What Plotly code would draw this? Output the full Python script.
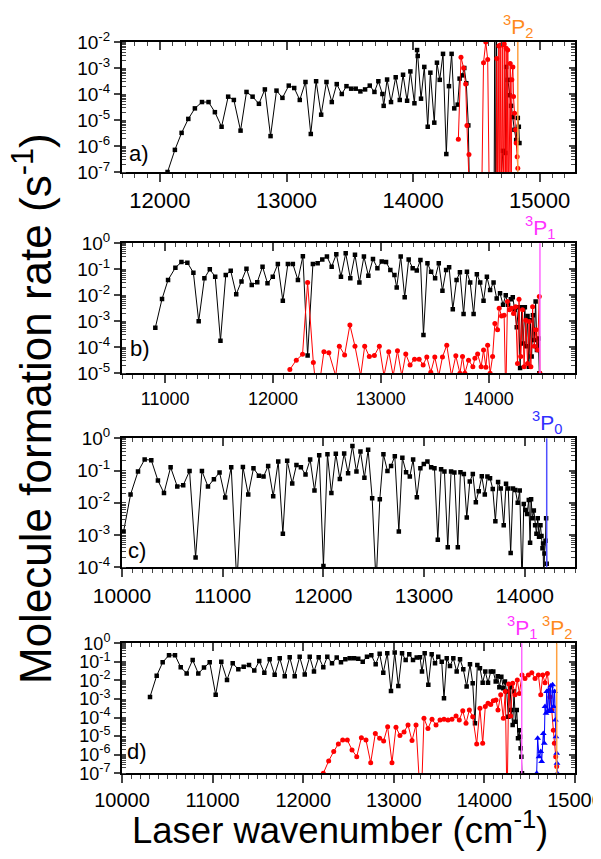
import plotly.graph_objects as go

W, H = 601, 859

# ---------------- data ----------------
# panel a
a_black_x = [12060, 12118, 12171, 12224, 12276, 12332, 12384, 12434, 12487, 12539,
             12584, 12637, 12684, 12732, 12782, 12829, 12874, 12921, 12968, 13018,
             13061, 13105, 13150, 13192, 13234, 13274, 13316, 13358, 13397, 13437,
             13474, 13511, 13547, 13584, 13621, 13658, 13695, 13726, 13758, 13768,
             13795, 13826, 13863, 13895, 13921, 13953, 13979, 14011, 14032, 14037,
             14063, 14089, 14116, 14137, 14168, 14189, 14211, 14237, 14263, 14284,
             14305, 14326, 14353, 14368, 14389, 14405, 14421, 14437, 14450, 14640,
             14646, 14652, 14660, 14667, 14711, 14729, 14736, 14749, 14762, 14775,
             14788, 14801, 14815, 14828, 14836, 14841]
a_black_y = [1.0e-7, 7.1e-7, 3.2e-6, 1.1e-5, 2.8e-5, 4.9e-5, 4.9e-5, 2.0e-5, 5.5e-6, 7.9e-5,
             5.9e-5, 3.9e-6, 1.2e-4, 7.9e-5, 4.2e-5, 1.5e-4, 2.4e-6, 1.35e-4, 7.1e-5, 2.1e-4,
             1.7e-4, 5.9e-5, 2.9e-4, 2.9e-6, 3.1e-4, 1.6e-5, 2.9e-4, 4.9e-5, 2.4e-4, 1.0e-4,
             2.0e-4, 1.6e-4, 1.6e-4, 1.26e-4, 1.5e-4, 2.1e-4, 1.2e-4, 3.1e-4, 1.0e-4, 3.5e-5,
             3.6e-4, 4.9e-5, 4.4e-4, 5.9e-5, 5.5e-4, 5.5e-5, 7.4e-4, 4.4e-5, 4.9e-3, 2.9e-3,
             6.6e-5, 1.1e-3, 5.5e-6, 6.6e-4, 7.9e-6, 1.6e-3, 3.5e-4, 3.5e-3, 4.9e-7, 2.0e-4,
             3.5e-3, 2.8e-5, 3.9e-5, 3.9e-4, 5.2e-4, 1.0e-3, 2.6e-4, 6.2e-6, 1e-9, 1e-9,
             5e-2, 1e-9, 5e-2, 1e-9, 6.5e-7, 5.4e-7, 1.1e-3, 3.5e-4, 9e-5, 3.5e-5,
             1.3e-5, 4.2e-6, 1.7e-6, 1.2e-5, 5.5e-6, 1.3e-6]
a_red_x = [14358, 14379, 14400, 14416, 14426, 14442, 14455, 14540, 14557, 14575,
           14590, 14605, 14655, 14662, 14670, 14678, 14684, 14689, 14697, 14705,
           14712, 14721, 14728, 14736, 14742, 14749, 14756, 14768, 14775, 14781,
           14789, 14794, 14802, 14810, 14815, 14823, 14828]
a_red_y = [1.8e-6, 2.6e-3, 1.0e-3, 2.4e-4, 6.2e-6, 4.7e-7, 1e-9, 1e-9, 1.6e-3, 1.0e-2,
           2.1e-3, 1e-9, 1e-9, 2.3e-3, 1e-9, 7e-3, 1e-9, 7.6e-3, 1e-9, 7.6e-3,
           1e-9, 8.3e-3, 1e-9, 5.8e-3, 1e-9, 4.9e-3, 1e-9, 1.5e-3, 1e-9, 3.5e-4,
           1.1e-3, 8e-5, 1.8e-5, 4.2e-6, 1.3e-6, 3.9e-7, 1.4e-7]

# panel b
b_black_x = [10909, 10971, 11027, 11095, 11151, 11206, 11262, 11311, 11364, 11414,
             11464, 11513, 11562, 11608, 11659, 11708, 11754, 11803, 11854, 11903,
             11949, 11998, 12045, 12091, 12138, 12184, 12231, 12277, 12321, 12370,
             12414, 12457, 12500, 12544, 12587, 12630, 12674, 12717, 12760, 12801,
             12843, 12884, 12927, 12968, 13008, 13048, 13088, 13126, 13147, 13184,
             13221, 13258, 13295, 13333, 13367, 13395, 13432, 13466, 13503, 13537,
             13571, 13605, 13633, 13667, 13702, 13733, 13767, 13798, 13828, 13860,
             13890, 13921, 13952, 13983, 14013, 14045, 14074, 14105, 14133, 14158,
             14180, 14205, 14223, 14241, 14260, 14276, 14291, 14307, 14319, 14335,
             14347, 14360, 14372, 14385, 14398, 14410, 14422, 14435, 14447, 14460,
             14469]
b_black_y = [5.7e-4, 7.2e-3, 3.9e-2, 0.115, 0.19, 0.18, 0.074, 1.0e-3, 0.045, 0.10,
             0.052, 1.8e-4, 0.060, 0.087, 0.011, 0.034, 0.106, 0.025, 0.032, 0.126,
             0.029, 0.052, 0.16, 6.2e-3, 0.16, 0.16, 0.039, 0.32, 4.8e-5, 0.16,
             0.17, 0.24, 0.31, 0.126, 0.38, 0.052, 0.41, 0.045, 0.36, 0.031,
             0.31, 0.057, 0.25, 0.11, 0.20, 0.19, 0.094, 0.060, 0.020, 0.31,
             8.4e-3, 0.24, 0.11, 0.089, 0.23, 3.0e-4, 0.17, 0.081, 0.045, 0.17,
             0.015, 0.094, 0.12, 2.9e-3, 0.039, 0.077, 1.9e-3, 0.081, 0.031, 1.9e-3,
             0.065, 0.031, 6.2e-3, 0.052, 0.016, 0.031, 7.6e-3, 0.012, 4.3e-3, 0.010,
             4.3e-3, 7.0e-3, 8.4e-3, 2.7e-3, 5.9e-4, 3.5e-3, 1.6e-5, 3.5e-3, 1.4e-4, 3.5e-3,
             1.1e-4, 1.6e-3, 1.8e-5, 1.1e-3, 4.4e-5, 1.7e-3, 1.9e-4, 5.8e-3, 7.9e-5, 2.2e-4,
             1e-5]
b_red_x = [12156, 12216, 12274, 12321, 12374, 12411, 12472, 12518, 12581, 12615,
           12664, 12713, 12760, 12813, 12850, 12893, 12940, 12986, 13029, 13073,
           13114, 13154, 13194, 13231, 13271, 13312, 13355, 13392, 13426, 13463,
           13500, 13537, 13571, 13611, 13655, 13695, 13733, 13757, 13779, 13813,
           13853, 13872, 13897, 13930, 13952, 13974, 13990, 14013, 14036, 14057,
           14082, 14097, 14119, 14143, 14158, 14174, 14193, 14211, 14230, 14249,
           14267, 14281, 14297, 14313, 14328, 14344, 14360, 14375, 14391, 14407,
           14422, 14438, 14453, 14469, 14475]
b_red_y = [1.4e-5, 3.2e-5, 5.4e-5, 0.031, 2.6e-5, 1e-6, 6.8e-5, 6.2e-5, 8e-6, 1.1e-4,
           5.1e-5, 7.2e-4, 1.1e-4, 8e-6, 1.1e-4, 4.4e-5, 4.8e-5, 1.1e-4, 8e-6, 6.8e-5,
           8e-6, 7.4e-5, 8e-6, 5.5e-5, 2.1e-5, 3.5e-5, 3.5e-5, 2.1e-5, 4.2e-5, 1.1e-5,
           4.2e-5, 8e-6, 4.2e-5, 1.2e-4, 8e-6, 4.7e-5, 1.0e-5, 4.4e-5, 1.0e-5, 3.2e-5,
           1.8e-5, 3.8e-5, 5.5e-5, 1.8e-5, 7.9e-5, 1.7e-5, 1.2e-4, 1e-5, 4.4e-5, 8.3e-4,
           4.7e-4, 3.2e-3, 1.6e-3, 1.7e-3, 1e-6, 5.8e-3, 2.8e-3, 3.2e-3, 2.0e-3, 3.6e-3,
           2.4e-5, 7.1e-3, 4.4e-5, 2.8e-3, 1.8e-5, 1.1e-3, 2.4e-5, 9.8e-4, 1.8e-5, 3.6e-3,
           1.1e-4, 4.7e-4, 7.9e-5, 8.9e-3, 1e-5]

# panel c
c_black_x = [10016, 10085, 10159, 10225, 10291, 10357, 10417, 10483, 10549, 10608,
             10671, 10731, 10794, 10854, 10913, 10969, 11025, 11085, 11141, 11201,
             11254, 11306, 11360, 11406, 11452, 11502, 11552, 11598, 11641, 11691,
             11733, 11777, 11823, 11869, 11912, 11959, 12001, 12041, 12080, 12124,
             12164, 12207, 12246, 12289, 12329, 12369, 12408, 12445, 12485, 12524,
             12561, 12597, 12637, 12673, 12710, 12750, 12785, 12822, 12859, 12892,
             12929, 12964, 12998, 13034, 13071, 13104, 13137, 13170, 13203, 13236,
             13269, 13302, 13336, 13362, 13396, 13425, 13455, 13485, 13515, 13544,
             13574, 13604, 13630, 13656, 13683, 13709, 13736, 13762, 13792, 13815,
             13837, 13861, 13884, 13907, 13931, 13951, 13974, 13991, 14007, 14024,
             14041, 14054, 14064, 14077, 14091, 14104, 14117, 14130, 14143, 14157,
             14167, 14177, 14183, 14190, 14197, 14207, 14213, 14219]
c_black_y = [1.3e-3, 0.018, 0.093, 0.22, 0.21, 0.049, 0.020, 0.126, 0.032, 0.035,
             0.097, 2.0e-4, 0.097, 0.032, 0.054, 0.087, 0.0145, 0.126, 3e-5, 0.13,
             0.018, 0.117, 0.069, 0.065, 0.138, 0.016, 0.19, 1.1e-3, 0.20, 0.040,
             0.149, 0.126, 0.076, 0.22, 0.024, 0.30, 1.1e-4, 0.32, 0.020, 0.33,
             0.055, 0.34, 0.082, 0.58, 0.093, 0.39, 0.060, 0.44, 0.0138, 3e-5,
             0.0129, 0.32, 0.097, 0.138, 0.28, 1.3e-3, 0.25, 0.089, 0.065, 0.22,
             0.0148, 0.117, 0.16, 0.19, 0.126, 0.117, 7.1e-4, 0.11, 0.093, 4.2e-4,
             0.093, 0.087, 4.2e-4, 0.089, 0.078, 3.5e-3, 0.046, 0.078, 0.0104, 0.023,
             0.066, 0.018, 0.065, 0.058, 0.027, 2.7e-3, 0.044, 0.028, 2.0e-3, 0.039,
             0.028, 2.8e-4, 0.028, 0.025, 0.010, 0.024, 3e-5, 9.1e-3, 6.0e-3, 4.5e-3,
             0.0123, 5.8e-4, 0.0129, 3.3e-3, 5.8e-3, 2.0e-3, 1.1e-3, 3.3e-3, 8.9e-4, 2.0e-3,
             9.3e-4, 3.9e-4, 5.5e-4, 3e-5, 2.7e-4, 6.6e-4, 3.3e-3, 1.3e-4]

# panel d
d_black_x = [10309, 10383, 10449, 10519, 10585, 10648, 10714, 10780, 10842, 10905,
             10968, 11034, 11096, 11159, 11222, 11284, 11343, 11402, 11460, 11515,
             11571, 11630, 11685, 11741, 11796, 11851, 11906, 11961, 12017, 12072,
             12119, 12171, 12222, 12266, 12318, 12370, 12417, 12465, 12513, 12561,
             12608, 12657, 12704, 12752, 12800, 12844, 12884, 12928, 12969, 13010,
             13050, 13091, 13131, 13171, 13212, 13253, 13289, 13311, 13341, 13381,
             13418, 13455, 13491, 13529, 13554, 13584, 13620, 13657, 13694, 13731,
             13767, 13804, 13841, 13871, 13896, 13922, 13951, 13981, 14010, 14040,
             14070, 14098, 14125, 14147, 14165, 14187, 14209, 14227, 14246, 14264,
             14283, 14297, 14312, 14327, 14342, 14357, 14371, 14386, 14393, 14400,
             14408, 14415]
d_black_y = [1.3e-3, 0.018, 0.095, 0.23, 0.23, 0.051, 0.024, 0.126, 0.024, 0.049,
             0.095, 1.7e-3, 0.10, 0.0107, 0.083, 0.040, 0.055, 0.068, 0.034, 0.11,
             0.026, 0.138, 0.020, 0.155, 0.017, 0.18, 0.017, 0.19, 0.021, 0.19,
             0.030, 0.18, 0.051, 0.19, 0.083, 0.17, 0.095, 0.138, 0.155, 0.155,
             0.145, 0.10, 0.19, 0.23, 0.074, 0.27, 0.026, 0.29, 2.7e-3, 0.32,
             5.0e-3, 0.29, 0.126, 0.26, 0.126, 0.17, 0.18, 0.030, 0.29, 5.8e-3,
             0.26, 0.083, 0.19, 0.10, 1.1e-3, 0.155, 0.060, 0.155, 0.030, 0.138,
             0.040, 4.7e-3, 0.074, 7.1e-3, 4.9e-5, 0.068, 0.045, 7.6e-3, 0.030, 7.6e-3,
             0.030, 0.030, 8.7e-3, 0.017, 4.3e-3, 0.016, 3.8e-3, 8.7e-3, 2.5e-3, 1.1e-4,
             4.3e-3, 2.6e-4, 4.0e-5, 2.5e-3, 6.0e-5, 2.6e-4, 7.6e-6, 2.1e-5, 9.3e-6, 2.2e-6,
             7.9e-7, 1e-7]
d_red_x = [12222, 12281, 12337, 12388, 12436, 12487, 12539, 12591, 12642, 12693,
           12745, 12796, 12844, 12888, 12932, 12980, 13024, 13068, 13113, 13157,
           13201, 13245, 13300, 13333, 13377, 13422, 13466, 13510, 13554, 13598,
           13642, 13687, 13723, 13761, 13797, 13834, 13871, 13915, 13951, 13981,
           14010, 14040, 14070, 14098, 14128, 14150, 14180, 14209, 14231, 14250,
           14268, 14290, 14312, 14338, 14363, 14386, 14415, 14448, 14485, 14523,
           14559, 14596, 14622, 14644, 14669, 14695, 14724, 14743, 14761, 14772,
           14787, 14798]
d_red_y = [1e-7, 4.6e-7, 1.5e-6, 3.8e-6, 6.2e-6, 6.2e-6, 1.8e-6, 7.9e-7, 8.3e-6, 6.2e-6,
           3.7e-7, 1.4e-5, 7.6e-6, 5.5e-6, 3.2e-5, 3.7e-7, 3.0e-5, 1.1e-5, 1.7e-5, 4.0e-5,
           5.8e-6, 4.0e-5, 1e-9, 9.1e-5, 2.6e-5, 8.1e-5, 4.0e-5, 7.4e-5, 8.1e-5, 7.4e-5,
           8.1e-5, 1.2e-4, 7.4e-5, 2.3e-4, 4.9e-5, 2.6e-4, 1.1e-4, 3.8e-6, 3.2e-4, 4.1e-6,
           3.9e-4, 5.9e-4, 5.1e-4, 8.1e-4, 8.9e-4, 2.6e-4, 1.7e-3, 9.1e-5, 2.5e-3, 1e-9,
           6.5e-3, 1.2e-4, 7.1e-3, 1.7e-3, 0.0107, 2.0e-3, 0.0195, 0.0129, 0.0195, 0.026,
           0.0129, 0.0195, 1.7e-3, 0.0195, 7.6e-3, 0.024, 1.3e-3, 2.6e-4, 2.1e-5, 4.1e-6,
           7.9e-7, 2.3e-7]
d_blue_x = [14577, 14588, 14603, 14622, 14632, 14650, 14661, 14669, 14680, 14688,
            14699, 14710, 14720, 14731, 14743, 14753, 14764, 14775, 14783, 14790,
            14798, 14801, 14805]
d_blue_y = [1e-7, 7.6e-6, 7.9e-7, 1.5e-6, 4.3e-7, 1.4e-5, 4.1e-6, 3.9e-4, 1.7e-4, 2.5e-3,
            2.1e-4, 3.1e-3, 2.6e-4, 5.0e-3, 2.1e-4, 5.8e-3, 3.9e-4, 2.5e-3, 7.4e-5, 9.3e-6,
            1.2e-6, 3.5e-7, 1e-7]

# atomic asymptote positions (cm^-1)
a_levels = [("3P2", 14828)]
b_levels = [("3P1", 14475)]
c_levels = [("3P0", 14219)]
d_levels = [("3P1", 14412), ("3P2", 14798)]

panel_labels = ["a)", "b)", "c)", "d)"]
x_title = "Laser wavenumber (cm<sup>-1</sup>)"
y_title = "Molecule formation rate (s<sup>-1</sup>)"

# ---------------- styling ----------------
LEVEL_TXT = {"3P0": "#3030FF", "3P1": "#FF33FF", "3P2": "#FF8A1C"}
LEVEL_LINE = {"3P0": "#5050FF", "3P1": "#FF66FF", "3P2": "#FFA040"}
LEVEL_HTML = {"3P0": "<sup>3</sup>P<sub>0</sub>", "3P1": "<sup>3</sup>P<sub>1</sub>",
              "3P2": "<sup>3</sup>P<sub>2</sub>"}
FONT = "Liberation Sans, Arial, sans-serif"

OFF = 8  # page body margin offset in the browser


def py(p):
    return 1 - (p - OFF) / H


def px(p):
    return (p - OFF) / W


def ax_id(letter, n):
    return letter if n == 1 else f"{letter}{n}"


def ax_key(letter, n):
    return f"{letter}axis" if n == 1 else f"{letter}axis{n}"


XDOM = [px(122), px(575)]
panels = [
    dict(top=42, bot=172, xr=[11700, 15280], yr=[-7, -2], xfs=22, yfs=19, lab=(139, 153),
         series=[(a_black_x, a_black_y, "black"), (a_red_x, a_red_y, "red")], levels=a_levels),
    dict(top=243.3, bot=373.3, xr=[10600, 14800], yr=[-5, 0], xfs=18, yfs=19, lab=(140, 348),
         series=[(b_black_x, b_black_y, "black"), (b_red_x, b_red_y, "red")], levels=b_levels),
    dict(top=438.3, bot=567.3, xr=[10000, 14500], yr=[-4, 0], xfs=21, yfs=19, lab=(137, 550),
         series=[(c_black_x, c_black_y, "black")], levels=c_levels),
    dict(top=643.3, bot=773.3, xr=[10000, 15000], yr=[-7, 0], xfs=20, yfs=18, lab=(137, 751),
         series=[(d_black_x, d_black_y, "black"), (d_red_x, d_red_y, "red"),
                 (d_blue_x, d_blue_y, "blue")], levels=d_levels),
]

MARK = {"black": dict(symbol="square", size=4.5, color="black"),
        "red": dict(symbol="circle", size=5, color="#FF0000"),
        "blue": dict(symbol="triangle-up", size=6, color="#0000FF")}
LINEC = {"black": "black", "red": "#FF0000", "blue": "#0000FF"}

fig = go.Figure()
layout = dict(width=W, height=H,
              margin=dict(l=0, r=0, t=0, b=0, pad=0, autoexpand=False),
              paper_bgcolor="white", plot_bgcolor="white", showlegend=False,
              font=dict(family=FONT, color="black"))
shapes, annotations = [], []

for i, p in enumerate(panels):
    n = i + 1
    xm, ym = ax_id("x", n), ax_id("y", n)          # main axes
    xo, yo = ax_id("x", n + 4), ax_id("y", n + 4)  # overlay axes for inner ticks
    ydom = [py(p["bot"]), py(p["top"])]
    lo, hi = p["yr"]
    tv = [10.0 ** k for k in range(lo, hi + 1)]
    tt = [f"10<sup>{k}</sup>" for k in range(lo, hi + 1)]

    layout[ax_key("x", n)] = dict(domain=XDOM, anchor=ym, range=p["xr"], dtick=1000, tick0=0,
                                  tickformat="d", ticks="outside", ticklen=8, tickwidth=1.5,
                                  minor=dict(dtick=100, ticks="outside", ticklen=4, tickwidth=1),
                                  showline=True, linewidth=2, linecolor="black", mirror=True,
                                  showgrid=False, zeroline=False, automargin=False,
                                  tickfont=dict(size=p["xfs"], family=FONT))
    layout[ax_key("y", n)] = dict(domain=ydom, anchor=xm, type="log", range=[lo, hi],
                                  tickmode="array", tickvals=tv, ticktext=tt,
                                  ticks="outside", ticklen=6, tickwidth=1.5,
                                  minor=dict(dtick="D1", ticks="inside", ticklen=4, tickwidth=1),
                                  showline=True, linewidth=2, linecolor="black", mirror=True,
                                  showgrid=False, zeroline=False, automargin=False,
                                  tickfont=dict(size=p["yfs"], family=FONT))
    layout[ax_key("x", n + 4)] = dict(overlaying=xm, anchor=ym, side="top", range=p["xr"],
                                      dtick=1000, tick0=0, ticks="inside", ticklen=8,
                                      tickwidth=1.5,
                                      minor=dict(dtick=100, ticks="inside", ticklen=4, tickwidth=1),
                                      showticklabels=False, showline=False, showgrid=False,
                                      zeroline=False, automargin=False)
    layout[ax_key("y", n + 4)] = dict(overlaying=ym, anchor=xm, side="right", type="log",
                                      range=[lo, hi], dtick=1, ticks="inside", ticklen=6,
                                      tickwidth=1.5,
                                      minor=dict(dtick="D1", ticks="inside", ticklen=4,
                                                 tickwidth=1),
                                      showticklabels=False, showline=False, showgrid=False,
                                      zeroline=False, automargin=False)
    # invisible anchors so overlay axes are drawn
    fig.add_trace(go.Scatter(x=[p["xr"][0]], y=[10.0 ** lo], xaxis=xo, yaxis=ym,
                             mode="markers", marker=dict(opacity=0), hoverinfo="skip"))
    fig.add_trace(go.Scatter(x=[p["xr"][0]], y=[10.0 ** lo], xaxis=xm, yaxis=yo,
                             mode="markers", marker=dict(opacity=0), hoverinfo="skip"))

    for xs, ys, c in p["series"]:
        fig.add_trace(go.Scatter(x=xs, y=ys, xaxis=xm, yaxis=ym, mode="lines+markers",
                                 line=dict(color=LINEC[c], width=1), marker=MARK[c]))

    for name, xv in p["levels"]:
        shapes.append(dict(type="line", xref=xm, yref=f"{ym} domain", x0=xv, x1=xv,
                           y0=0, y1=1, line=dict(color=LEVEL_LINE[name], width=1.5)))
        annotations.append(dict(text=LEVEL_HTML[name], xref=xm, yref="paper", x=xv,
                                y=py(p["top"] + 1), xanchor="center", yanchor="bottom",
                                showarrow=False,
                                font=dict(size=21, color=LEVEL_TXT[name], family=FONT)))

    annotations.append(dict(text=panel_labels[i], xref="paper", yref="paper",
                            x=px(p["lab"][0]), y=py(p["lab"][1]), xanchor="center",
                            yanchor="middle", showarrow=False,
                            font=dict(size=22, family=FONT, color="black")))

annotations.append(dict(text=y_title, xref="paper", yref="paper", x=px(32), y=py(409),
                        textangle=-90, showarrow=False, xanchor="center", yanchor="middle",
                        font=dict(size=44, family=FONT, color="black")))
annotations.append(dict(text=x_title, xref="paper", yref="paper", x=px(340), y=py(828),
                        showarrow=False, xanchor="center", yanchor="middle",
                        font=dict(size=36.5, family=FONT, color="black")))

layout["shapes"] = shapes
layout["annotations"] = annotations
fig.update_layout(**layout)
fig.write_html("out.html")
